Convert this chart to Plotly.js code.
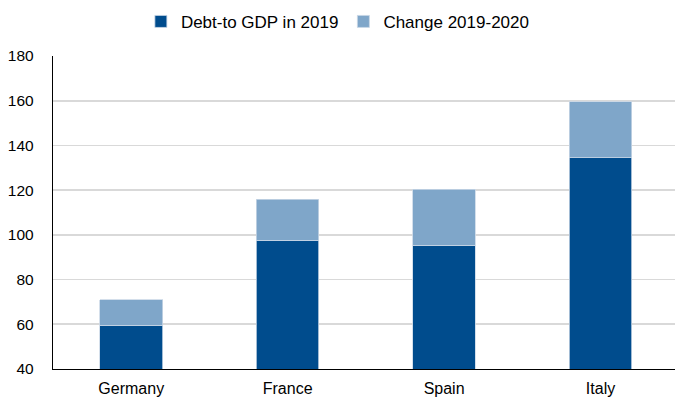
<!DOCTYPE html>
<html>
<head>
<meta charset="utf-8">
<script src="https://cdn.plot.ly/plotly-3.0.1.min.js"></script>
<style>html,body{margin:0;padding:0;background:#fff;}#chart{width:675px;height:399px;}</style>
</head>
<body>
<div id="chart"></div>
<script>
const countries = ['Germany', 'France', 'Spain', 'Italy'];
const debt2019 = [59.6, 97.7, 95.3, 134.5];
const change2019_2020 = [11.4, 18.2, 25.1, 25.0];
const yTicks = [40, 60, 80, 100, 120, 140, 160, 180];

const traces = [
  {
    type: 'bar', name: 'Debt-to GDP in 2019', x: countries, y: debt2019,
    width: 0.4,
    marker: {color: '#004C8D', line: {color: '#C9D7E6', width: 0.8}},
    hoverinfo: 'x+y'
  },
  {
    type: 'bar', name: 'Change 2019-2020', x: countries, y: change2019_2020,
    width: 0.4,
    marker: {color: '#7FA6C9', line: {color: '#C9D7E6', width: 0.8}},
    hoverinfo: 'x+y'
  }
];

const layout = {
  width: 675, height: 399,
  margin: {l: 53, r: 0, t: 56, b: 30, pad: 0},
  paper_bgcolor: '#fff', plot_bgcolor: '#fff',
  font: {family: '"Liberation Sans", Arial, sans-serif', size: 15, color: '#000'},
  barmode: 'stack',
  showlegend: true,
  legend: {
    orientation: 'h', x: 0.458, xanchor: 'center', y: 1.109, yanchor: 'middle',
    font: {size: 17, color: '#000'}, traceorder: 'normal', itemwidth: 30
  },
  xaxis: {
    type: 'category', range: [-0.5, 3.476],
    showline: true, linecolor: '#000', linewidth: 1.2,
    showgrid: false, zeroline: false, ticks: '',
    ticklabelstandoff: 5,
    tickfont: {size: 16}
  },
  yaxis: {
    range: [40, 180], tickvals: yTicks, ticktext: yTicks.map(String),
    showline: true, linecolor: '#000', linewidth: 1.2,
    showgrid: true, gridcolor: '#D9D9D9', gridwidth: 1.8,
    zeroline: false, ticks: '', ticklabelstandoff: 15,
    tickfont: {size: 15.5}
  }
};

Plotly.newPlot('chart', traces, layout, {displayModeBar: false, staticPlot: true});
</script>
</body>
</html>
